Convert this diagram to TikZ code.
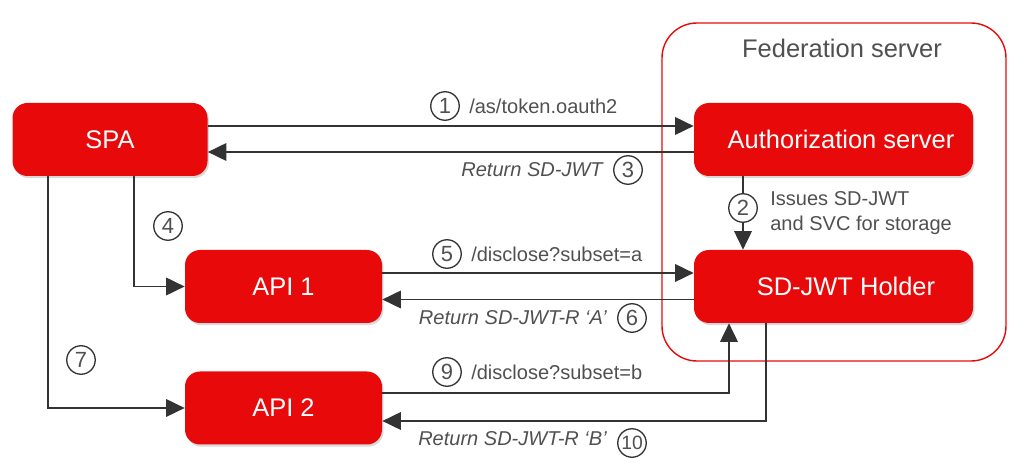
\documentclass[tikz,border=0pt]{standalone}
\usepackage{fontspec}
\setmainfont{Liberation Sans}
\usepackage{tikz}
\usetikzlibrary{arrows.meta, positioning, shadows}

\definecolor{boxred}{RGB}{232,10,10}
\definecolor{linegray}{RGB}{51,51,51}
\definecolor{textgray}{RGB}{80,80,80}

\tikzset{
    box/.style={rounded corners=0.3cm, fill=boxred, text=white, minimum height=1.46cm,
        font=\fontsize{14.5}{17}\selectfont,
        drop shadow={shadow xshift=0.8pt, shadow yshift=-1.2pt, fill=black!30, opacity=0.5}},
    flow/.style={draw=linegray, line width=0.85pt, -{Triangle[length=10.5pt, width=10pt]}},
    num/.style={circle, draw=linegray, line width=0.75pt, fill=white, minimum size=0.57cm,
        inner sep=0pt, text=textgray, font=\fontsize{12.5}{14}\selectfont},
    lbl/.style={inner sep=0pt, text=textgray, font=\fontsize{11.4}{13.5}\selectfont},
}

\begin{document}
\begin{tikzpicture}
    \useasboundingbox (0,0) rectangle (20.48,9.52);

    % Federation server frame
    \draw[boxred, line width=0.8pt, rounded corners=0.7cm] (13.24,2.3) rectangle (20.12,9.06);
    \node[text=textgray, font=\fontsize{14.5}{17}\selectfont] (fed) at (16.84,8.56) {Federation server};

    % Boxes
    \node[box, minimum width=3.9cm] (spa) at (2.2,6.73) {SPA};
    \node[box, minimum width=3.94cm] (api1) at (5.67,3.79) {API 1};
    \node[box, minimum width=3.94cm] (api2) at (5.67,1.36) {API 2};
    \node[box, minimum width=5.58cm] (auth) at (16.67,6.73) {\hspace{0.3cm}Authorization server};
    \node[box, minimum width=5.58cm] (holder) at (16.67,3.79) {\hspace{0.5cm}SD-JWT Holder};

    % Token request and answer
    \draw[flow] ([yshift=0.27cm]spa.east) -- ([yshift=0.27cm]spa.east -| auth.west);
    \draw[flow] ([yshift=-0.25cm]auth.west) -- ([yshift=-0.25cm]auth.west -| spa.east);
    \node[num] (n1) at (8.9,7.4) {1};
    \node[lbl, right=0.18cm of n1] (l1) {/as/token.oauth2};
    \node[num] (n3) at (12.56,6.12) {3};
    \node[lbl, left=0.2cm of n3] (l3) {\itshape Return SD-JWT};

    % Storage
    \draw[flow] ([xshift=-1.81cm]auth.south) -- ([xshift=-1.81cm]holder.north);
    \node[num] (n2) at (14.86,5.36) {2};
    \node[lbl, align=left, anchor=west] (l2) at (15.4,5.26) {Issues SD-JWT\\[1pt]and SVC for storage};

    % SPA to APIs
    \draw[flow] ([xshift=0.48cm]spa.south) |- (api1.west);
    \draw[flow] ([xshift=-1.24cm]spa.south) |- (api2.west);
    \node[num] (n4) at (3.36,5.0) {4};
    \node[num] (n7) at (1.62,2.32) {7};

    % API 1 disclosure
    \draw[flow] ([yshift=0.27cm]api1.east) -- ([yshift=0.27cm]api1.east -| holder.west);
    \draw[flow] ([yshift=-0.26cm]holder.west) -- ([yshift=-0.26cm]holder.west -| api1.east);
    \node[num] (n5) at (8.94,4.44) {5};
    \node[lbl, right=0.18cm of n5] (l5) {/disclose?subset=a};
    \node[num] (n6) at (12.64,3.16) {6};
    \node[lbl, left=0.2cm of n6] (l6) {\itshape Return SD-JWT-R ‘A’};

    % API 2 disclosure
    \draw[flow] ([yshift=0.3cm]api2.east) -| ([xshift=-2.09cm]holder.south);
    \draw[flow] ([xshift=-1.35cm]holder.south) |- ([yshift=-0.26cm]api2.east);
    \node[num] (n9) at (8.94,2.08) {9};
    \node[lbl, right=0.18cm of n9] (l9) {/disclose?subset=b};
    \node[num] (n10) at (12.64,0.66) {\fontsize{11}{12}\selectfont 10};
    \node[lbl, left=0.2cm of n10, yshift=0.08cm] (l10) {\itshape Return SD-JWT-R ‘B’};
\end{tikzpicture}
\end{document}
